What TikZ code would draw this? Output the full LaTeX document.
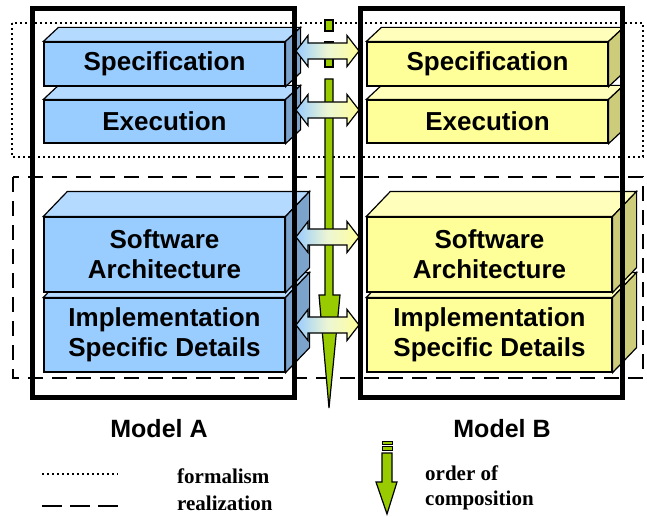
\documentclass[tikz,border=0pt]{standalone}
\usepackage{fontspec}
\setmainfont{Liberation Serif}
\newfontfamily\arialf{Liberation Sans}
\definecolor{blueF}{HTML}{99CCFF}
\definecolor{blueT}{HTML}{B5DAFF}
\definecolor{blueS}{HTML}{7BA3CC}
\definecolor{yelF}{HTML}{FFFF99}
\definecolor{yelT}{HTML}{FFFFBB}
\definecolor{yelS}{HTML}{CCCC7A}
\definecolor{grn}{HTML}{99CC00}
\newcommand\boxfaces[5]{%
  \path[face, fill=#4] (#1.north west) -- ++(#2,-#3) -- ([shift={(#2,-#3)}]#1.north east) -- (#1.north east) -- cycle;
  \path[face, fill=#5] (#1.north east) -- ([shift={(#2,-#3)}]#1.north east) -- ([shift={(#2,-#3)}]#1.south east) -- (#1.south east) -- cycle;}
\newcommand\dblarrow[1]{%
  \shade[left color=blueF, right color=yelF, middle color=blueF!30!yelF!60!white, draw=black, line width=1.2pt, line join=miter]
  (296,#1) -- (308,#1-15.5) -- (308,#1-8) -- (347,#1-8) -- (347,#1-15.5) -- (359,#1)
  -- (347,#1+15.5) -- (347,#1+8) -- (308,#1+8) -- (308,#1+15.5) -- cycle;}
\begin{document}
\begin{tikzpicture}[x=1pt,y=-1pt,
  face/.style={draw=black, line width=1.2pt, line join=miter},
  front/.style={face, inner sep=0pt, align=center,
    font=\arialf\bfseries\fontsize{26}{30}\selectfont},
  frame/.style={draw=black, line width=5pt},
  grnst/.style={fill=grn, draw=black, line width=1.2pt, line join=miter},
  modeltext/.style={font=\arialf\bfseries\fontsize{25}{30}\selectfont},
  legtext/.style={font=\bfseries\fontsize{21}{24}\selectfont, inner sep=0pt},
  dotline/.style={line width=2pt, dash pattern=on 2pt off 3pt},
  dashline/.style={line width=2pt, dash pattern=on 15pt off 9pt}]
\useasboundingbox (0,0) rectangle (647,516);
\fill[white] (0,0) rectangle (647,516);

% formalism / realization regions
\draw[dotline] (12,23) rectangle (643,157);
\draw[dashline] (13,177) rectangle (643,378);

% Model A boxes
\node[front, fill=blueF, minimum width=241pt, minimum height=43pt] (execA) at (164.5,121.5) {Execution};
\boxfaces{execA}{15}{14}{blueT}{blueS}
\node[front, fill=blueF, minimum width=241pt, minimum height=44pt] (specA) at (164.5,64) {Specification};
\boxfaces{specA}{15}{14}{blueT}{blueS}
\node[front, fill=blueF, minimum width=241pt, minimum height=74pt] (implA) at (164.5,335) {Implementation\\Specific Details};
\boxfaces{implA}{24}{25}{blueT}{blueS}
\node[front, fill=blueF, minimum width=241pt, minimum height=75pt] (archA) at (164.5,254.5) {Software\\Architecture};
\boxfaces{archA}{24}{25}{blueT}{blueS}

% Model B boxes
\node[front, fill=yelF, minimum width=241pt, minimum height=43pt] (execB) at (487.5,121.5) {Execution};
\boxfaces{execB}{15}{14}{yelT}{yelS}
\node[front, fill=yelF, minimum width=241pt, minimum height=44pt] (specB) at (487.5,64) {Specification};
\boxfaces{specB}{15}{14}{yelT}{yelS}
\node[front, fill=yelF, minimum width=245pt, minimum height=74pt] (implB) at (489.5,335) {Implementation\\Specific Details};
\boxfaces{implB}{24}{25}{yelT}{yelS}
\node[front, fill=yelF, minimum width=245pt, minimum height=75pt] (archB) at (489.5,254.5) {Software\\Architecture};
\boxfaces{archB}{24}{25}{yelT}{yelS}

% model frames
\draw[frame] (32,9) rectangle (294,397);
\draw[frame] (360,9) rectangle (622,397);

% order of composition arrow
\draw[grnst] (325,20) rectangle (333,31);
\draw[grnst] (325,42) rectangle (333,67);
\draw[grnst] (325,79) -- (325,295) -- (319,295) -- (329,408) -- (340,295) -- (333,295) -- (333,79) -- cycle;

% correspondence arrows
\dblarrow{51}
\dblarrow{110}
\dblarrow{237}
\dblarrow{325}

% model labels
\node[modeltext] (labA) at (159,429) {Model A};
\node[modeltext] (labB) at (502,429) {Model B};

% legend
\draw[dotline] (42,474) -- (118,474);
\draw[line width=2.5pt, dash pattern=on 20pt off 8pt] (42,506) -- (118,506);
\node[legtext, anchor=base west] (lform) at (177,483) {formalism};
\node[legtext, anchor=base west] (lreal) at (177,510) {realization};
\draw[grnst, line width=1pt] (382,441) rectangle (392,444);
\draw[grnst, line width=1pt] (382,446.5) rectangle (392,450);
\draw[grnst] (382,453) -- (382,482) -- (376,482) -- (387,514) -- (397,482) -- (392,482) -- (392,453) -- cycle;
\node[legtext, anchor=base west] (lord) at (425,480) {order of};
\node[legtext, anchor=base west] (lcomp) at (425,505) {composition};
\end{tikzpicture}
\end{document}
